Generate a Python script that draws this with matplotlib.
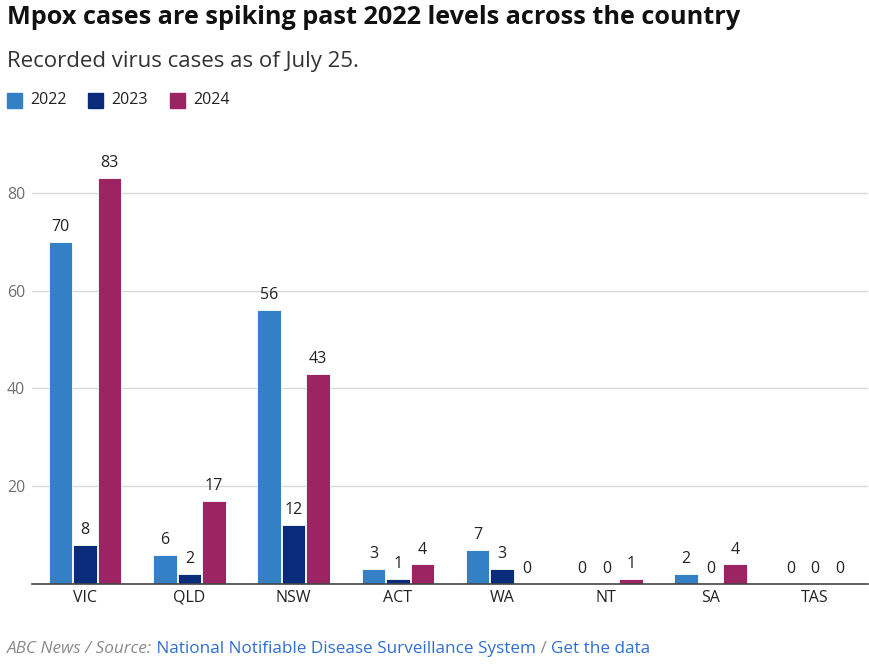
import matplotlib
matplotlib.use("Agg")
import matplotlib.pyplot as plt
import numpy as np

states = ["VIC", "QLD", "NSW", "ACT", "WA", "NT", "SA", "TAS"]
years = ["2022", "2023", "2024"]
cases_2022 = [70, 6, 56, 3, 7, 0, 2, 0]
cases_2023 = [8, 2, 12, 1, 3, 0, 0, 0]
cases_2024 = [83, 17, 43, 4, 0, 1, 4, 0]
colors = ["#3380c7", "#0a2a7a", "#9c2463"]

plt.rcParams["font.family"] = ["Open Sans", "DejaVu Sans"]

W, H = 870, 670
fig = plt.figure(figsize=(W / 100, H / 100), dpi=100)
ax = fig.add_axes([32 / W, 1 - 584 / H, 836 / W, 440 / H])

x = np.arange(len(states))
width = 0.225
step = 0.235
for i, (vals, c) in enumerate(zip([cases_2022, cases_2023, cases_2024], colors)):
    pos = x + (i - 1) * step
    ax.bar(pos, vals, width=width, color=c, edgecolor="white", linewidth=0.6, zorder=3)
    for p, v in zip(pos, vals):
        ax.text(p, v + 1.4, str(v), ha="center", va="bottom", fontsize=11.5, color="#222222")

ax.set_xlim(-0.51, len(states) - 0.49)
ax.set_ylim(0, 90)
ax.set_yticks([0, 20, 40, 60, 80])
ax.set_yticklabels(["", "20", "40", "60", "80"])
ax.yaxis.grid(True, color="#d9d9d9", linewidth=1, zorder=0)
ax.tick_params(axis="y", length=0, labelsize=11.5, labelcolor="#707070", pad=5)
ax.set_xticks(x)
ax.set_xticklabels(states)
ax.tick_params(axis="x", length=0, labelsize=11.5, labelcolor="#222222", pad=4)
for s in ["top", "right", "left"]:
    ax.spines[s].set_visible(False)
ax.spines["bottom"].set_color("#444444")
ax.spines["bottom"].set_linewidth(1.2)
ax.spines["bottom"].set_zorder(4)

# title, subtitle
fig.text(7 / W, 1 - 17 / H, "Mpox cases are spiking past 2022 levels across the country",
         fontsize=18.2, fontweight="bold", color="#111111", va="center", ha="left")
fig.text(7 / W, 1 - 62 / H, "Recorded virus cases as of July 25.",
         fontsize=16, color="#333333", va="center", ha="left")

# legend
leg_x = [7, 88, 170]
for lx, yr, c in zip(leg_x, years, colors):
    fig.patches.append(plt.Rectangle((lx / W, 1 - 108 / H), 15 / W, 15 / H,
                                     transform=fig.transFigure, color=c))
    fig.text((lx + 23) / W, 1 - 100 / H, yr, fontsize=11.5, color="#222222",
             va="center", ha="left")

# footer with mixed colours
fig.canvas.draw()
renderer = fig.canvas.get_renderer()
pieces = [("ABC News / Source:", "#8a8a8a", "italic"),
          (" National Notifiable Disease Surveillance System", "#2f6fd0", "normal"),
          (" / ", "#8a8a8a", "normal"),
          ("Get the data", "#2f6fd0", "normal")]
cur = 7
for txt, c, st in pieces:
    t = fig.text(cur / W, 1 - 649 / H, txt, fontsize=12.3, color=c, style=st,
                 va="center", ha="left")
    bb = t.get_window_extent(renderer)
    cur = bb.x1

fig.savefig("out.png", dpi=100)
